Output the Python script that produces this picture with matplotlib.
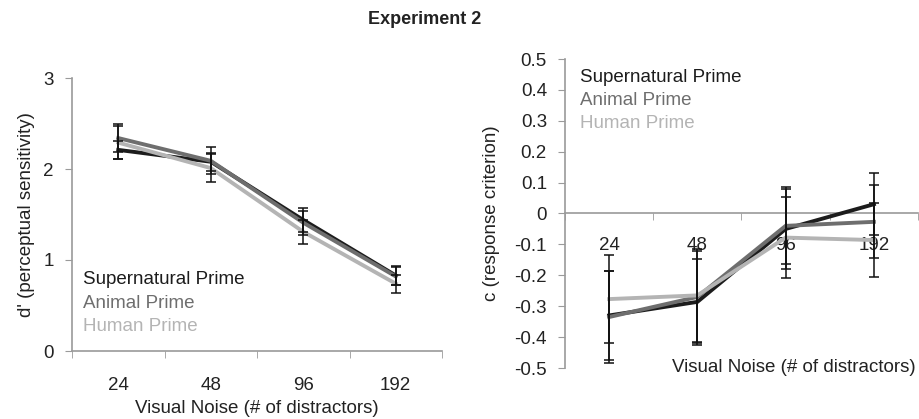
import matplotlib
matplotlib.use("Agg")
import matplotlib.pyplot as plt
import numpy as np

plt.rcParams['font.family'] = ['Liberation Sans', 'DejaVu Sans']

categories = ["24", "48", "96", "192"]
series_names = ["Supernatural Prime", "Animal Prime", "Human Prime"]
colors = ["#1c1c1c", "#6e6e6e", "#b4b4b4"]

# d' values
d_super = [2.21, 2.08, 1.44, 0.83]
d_animal = [2.34, 2.09, 1.41, 0.82]
d_human = [2.29, 2.01, 1.31, 0.74]
d_super_err = [0.10, 0.10, 0.13, 0.10]
d_animal_err = [0.15, 0.15, 0.13, 0.10]
d_human_err = [0.18, 0.15, 0.13, 0.10]

# c values
c_super = [-0.33, -0.286, -0.05, 0.03]
c_animal = [-0.335, -0.27, -0.04, -0.027]
c_human = [-0.277, -0.265, -0.078, -0.086]
c_super_err = [0.145, 0.14, 0.13, 0.10]
c_animal_err = [0.148, 0.15, 0.125, 0.118]
c_human_err = [0.142, 0.15, 0.13, 0.12]

FS = 13.5
fig = plt.figure(figsize=(9.2, 4.19), dpi=100)
fig.text(424.5/920, 1-20/419, "Experiment 2", ha='center', va='center', fontsize=13, fontweight='bold', color='#222222')

axis_col = '#9a9a9a'
x = np.arange(len(categories))

def draw(ax, vals, errs):
    for v, e, c in zip(vals, errs, colors):
        ax.plot(x, v, color=c, lw=2.8, solid_joinstyle='miter', zorder=3)
    for v, e in zip(vals, errs):
        ax.errorbar(x, v, yerr=e, fmt='none', ecolor='#111111', elinewidth=1.1, capsize=3.5, capthick=1.1, zorder=4)

# Left panel
ax1 = fig.add_axes([72/920, 1-351/419, 370/920, 273/419])
draw(ax1, [d_super, d_animal, d_human], [d_super_err, d_animal_err, d_human_err])
ax1.set_xlim(-0.5, 3.5)
ax1.set_ylim(0, 3)
ax1.set_yticks([0, 1, 2, 3])
ax1.set_xticks(x)
ax1.set_xticklabels(categories)
ax1.set_xticks(np.arange(-0.5, 3.6, 1), minor=True)
ax1.tick_params(axis='x', which='major', length=0, pad=19, labelsize=FS, colors='#222222')
ax1.tick_params(axis='x', which='minor', length=5, direction='out', color=axis_col)
ax1.tick_params(axis='y', length=5, direction='out', color=axis_col, labelsize=FS, labelcolor='#222222', pad=8)
for s in ['top', 'right']:
    ax1.spines[s].set_visible(False)
for s in ['left', 'bottom']:
    ax1.spines[s].set_color(axis_col)
    ax1.spines[s].set_linewidth(1.2)
ax1.set_xlabel("Visual Noise (# of distractors)", fontsize=FS, color='#222222', labelpad=4)
ax1.set_ylabel("d' (perceptual sensitivity)", fontsize=FS, color='#222222', labelpad=6)
for i, (n, c) in enumerate(zip(series_names, colors)):
    ax1.text(83/920, 1-(280+23*i)/419, n, transform=fig.transFigure, fontsize=FS, color=c, va='center', ha='left')

# Right panel
ax2 = fig.add_axes([565/920, 1-368/419, 353/920, 309/419])
draw(ax2, [c_super, c_animal, c_human], [c_super_err, c_animal_err, c_human_err])
ax2.set_xlim(-0.5, 3.5)
ax2.set_ylim(-0.5, 0.5)
ax2.set_yticks(np.round(np.arange(-0.5, 0.51, 0.1), 1))
ax2.set_yticklabels(["-0.5", "-0.4", "-0.3", "-0.2", "-0.1", "0", "0.1", "0.2", "0.3", "0.4", "0.5"])
ax2.spines['bottom'].set_position(('data', 0))
ax2.set_xticks(x)
ax2.set_xticklabels(categories)
ax2.set_xticks(np.arange(-0.5, 3.6, 1), minor=True)
ax2.tick_params(axis='x', which='major', length=0, pad=17, labelsize=FS, colors='#222222')
ax2.tick_params(axis='x', which='minor', length=5, direction='out', color=axis_col)
ax2.tick_params(axis='y', length=5, direction='out', color=axis_col, labelsize=FS, labelcolor='#222222', pad=8)
for s in ['top', 'right']:
    ax2.spines[s].set_visible(False)
for s in ['left', 'bottom']:
    ax2.spines[s].set_color(axis_col)
    ax2.spines[s].set_linewidth(1.2)
ax2.set_ylabel("c (response criterion)", fontsize=FS, color='#222222', labelpad=10)
fig.text(916/920, 1-367/419, "Visual Noise (# of distractors)", fontsize=FS, color='#222222', ha='right', va='center')
for i, (n, c) in enumerate(zip(series_names, colors)):
    fig.text(580/920, 1-(78+22.5*i)/419, n, fontsize=FS, color=c, va='center', ha='left')

fig.savefig("out.png", dpi=100)
